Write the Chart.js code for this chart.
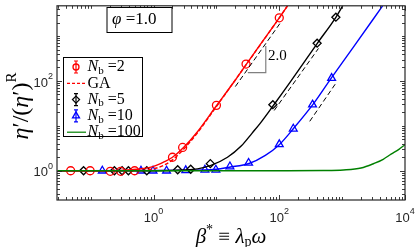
<!DOCTYPE html>
<html>
<head>
<meta charset="utf-8">
<script src="https://cdn.jsdelivr.net/npm/chart.js@4.4.1/dist/chart.umd.min.js"></script>
<style>
  html, body { margin: 0; padding: 0; background: #fff; }
</style>
</head>
<body>
<canvas id="chart" width="415" height="247"></canvas>
<script>
// values (beta* on x, eta'/(eta')^R on y)
const nb2X = [0.048, 0.098, 0.205, 0.30, 0.50, 2.0, 2.9, 10, 29.6, 100];
const nb2Y = [1, 1, 0.97, 0.97, 1, 2.0, 3.3, 28.6, 238, 2550];
const nb2LineX = [0.03, 0.3, 0.6, 1, 1.5, 2, 3, 5, 10, 20, 30, 50, 100, 135];
const nb2LineY = [1, 1.02, 1.09, 1.25, 1.6, 2.0, 3.3, 7.4, 28, 105, 238, 650, 2550, 4700];
const gaLineX = [0.03, 0.5, 1, 1.5, 2, 3, 5, 10, 30, 100, 135];
const gaLineY = [1, 1, 1.1, 1.35, 1.75, 3.0, 7, 27, 235, 2550, 4700];

const nb5X = [0.077, 0.238, 0.316, 0.398, 0.78, 2.42, 3.9, 8.0, 79, 400, 795];
const nb5Y = [1, 1, 1, 1, 1, 1.05, 1.08, 1.44, 29.6, 694, 2630];
const nb5LineX = [0.03, 1, 3, 5, 8, 15, 25, 37, 50, 80, 150, 400, 800, 1020];
const nb5LineY = [1, 1, 1.04, 1.1, 1.3, 2.0, 3.6, 6.9, 11.5, 28, 95, 680, 2650, 4700];

const nb10X = [0.153, 0.631, 0.98, 1.61, 3.25, 6.56, 9.8, 16.4, 32.5, 100, 167, 338, 680];
const nb10Y = [1, 1, 1, 1, 1.02, 1.05, 1.05, 1.24, 1.49, 3.86, 8.6, 29.6, 116];
const nb10LineX = [0.03, 3, 10, 16, 33, 60, 100, 167, 341, 671, 1500, 4400];
const nb10LineY = [1, 1.02, 1.08, 1.2, 1.45, 2.2, 3.8, 8.6, 29.6, 116, 560, 4700];

const nb100LineX = [0.03, 100, 500, 1050, 2000, 3200, 4500, 6000, 8000, 10000];
const nb100LineY = [1, 1, 1.01, 1.04, 1.15, 1.45, 1.8, 2.35, 3.0, 3.8];

// slope-2 guide segments
const guide1X = [20, 105];
const guide1Y = [75, 2000];
const guide2X = [83, 420];
const guide2Y = [22, 530];
const guide3X = [305, 790];
const guide3Y = [12.6, 88];
const triX = [31.6, 61, 61];
const triY = [154, 154, 600];

const xRange = [0.0291, 10000];
const yRange = [0.223, 4720];
const xLabelExps = [0, 2, 4];
const yLabelExps = [0, 2];

const RED = '#ff0000', BLACK = '#000000', BLUE = '#0000ff', GREEN = '#008000';
const SERIF = '"Liberation Serif", "DejaVu Serif", serif';

function pts(xs, ys) {
    return xs.map((x, i) => ({ x: x, y: ys[i] }));
}

function lineSet(xs, ys, color, dash, width) {
    return {
        data: pts(xs, ys), showLine: true, borderColor: color, borderWidth: width || 1.4,
        borderDash: dash || [], pointRadius: 0, tension: 0.4, cubicInterpolationMode: 'monotone', fill: false
    };
}

function markerSet(xs, ys, color, style, r) {
    return {
        data: pts(xs, ys), showLine: false, pointStyle: style, pointRadius: r,
        pointBorderColor: color, pointBackgroundColor: 'rgba(0,0,0,0)', pointBorderWidth: 1.3
    };
}

// draw a run of text pieces, each with own font and vertical shift
function runsWidth(ctx, runs) {
    let w = 0;
    runs.forEach(r => { ctx.font = r.f; w += ctx.measureText(r.t).width; });
    return w;
}
function drawRuns(ctx, runs, x, y, align) {
    let w = runsWidth(ctx, runs);
    let cx = align === 'center' ? x - w / 2 : (align === 'right' ? x - w : x);
    ctx.textAlign = 'left';
    ctx.textBaseline = 'middle';
    runs.forEach(r => {
        ctx.font = r.f;
        ctx.fillText(r.t, cx, y + (r.dy || 0));
        cx += ctx.measureText(r.t).width;
    });
}
function pow10(e) {
    return [
        { t: '10', f: '13px "Liberation Sans", Arial, sans-serif' },
        { t: String(e), f: '9px "Liberation Sans", Arial, sans-serif', dy: -6 }
    ];
}

function drawMarker(ctx, style, x, y, r, color) {
    ctx.save();
    ctx.strokeStyle = color;
    ctx.lineWidth = 1.3;
    ctx.beginPath();
    if (style === 'circle') {
        ctx.arc(x, y, r, 0, Math.PI * 2);
    } else if (style === 'rectRot') {
        ctx.moveTo(x, y - r); ctx.lineTo(x + r, y); ctx.lineTo(x, y + r); ctx.lineTo(x - r, y); ctx.closePath();
    } else {
        ctx.moveTo(x, y - r); ctx.lineTo(x + r * 0.87, y + r * 0.5); ctx.lineTo(x - r * 0.87, y + r * 0.5); ctx.closePath();
    }
    ctx.stroke();
    ctx.restore();
}

const decor = {
    id: 'decor',
    afterDraw(chart) {
        const ctx = chart.ctx;
        const a = chart.chartArea;
        const xs = chart.scales.x, ys = chart.scales.y;
        ctx.save();

        // axes box
        ctx.strokeStyle = '#262626';
        ctx.lineWidth = 1.2;
        ctx.strokeRect(a.left, a.top, a.right - a.left, a.bottom - a.top);

        // inward log ticks on all sides
        ctx.lineWidth = 0.9;
        ctx.beginPath();
        for (let k = -2; k <= 4; k++) {
            for (let m = 1; m <= 9; m++) {
                const v = m * Math.pow(10, k);
                const major = (m === 1 && k % 2 === 0);
                const len = major ? 5 : 3;
                if (v >= xRange[0] && v <= xRange[1]) {
                    const px = Math.round(xs.getPixelForValue(v)) + 0.5;
                    ctx.moveTo(px, a.bottom); ctx.lineTo(px, a.bottom - len);
                    ctx.moveTo(px, a.top); ctx.lineTo(px, a.top + len);
                }
                if (v >= yRange[0] && v <= yRange[1]) {
                    const py = Math.round(ys.getPixelForValue(v)) + 0.5;
                    ctx.moveTo(a.left, py); ctx.lineTo(a.left + len, py);
                    ctx.moveTo(a.right, py); ctx.lineTo(a.right - len, py);
                }
            }
        }
        ctx.stroke();

        // tick labels
        ctx.fillStyle = '#262626';
        xLabelExps.forEach(e => {
            drawRuns(ctx, pow10(e), xs.getPixelForValue(Math.pow(10, e)), a.bottom + 18, 'center');
        });
        yLabelExps.forEach(e => {
            drawRuns(ctx, pow10(e), a.left - 4, ys.getPixelForValue(Math.pow(10, e)) + 2, 'right');
        });

        // axis titles
        ctx.fillStyle = '#000';
        const it20 = 'italic 21px ' + SERIF, up20 = '21px ' + SERIF;
        drawRuns(ctx, [
            { t: 'β', f: it20 }, { t: '*', f: '14px ' + SERIF, dy: -7 },
            { t: ' ≡ ', f: up20 }, { t: 'λ', f: it20 },
            { t: 'p', f: '14px ' + SERIF, dy: 5 }, { t: 'ω', f: it20 }
        ], (a.left + a.right) / 2, 237, 'center');

        ctx.save();
        ctx.translate(22, 106);
        ctx.rotate(-Math.PI / 2);
        const it22 = 'italic 24px ' + SERIF, up22 = '24px ' + SERIF;
        drawRuns(ctx, [
            { t: 'η', f: it22 }, { t: '′', f: up22 }, { t: '/(', f: up22 },
            { t: 'η', f: it22 }, { t: '′', f: up22 }, { t: ')', f: up22 },
            { t: 'R', f: '15px ' + SERIF, dy: -10 }
        ], 0, 0, 'center');
        ctx.restore();

        // phi box
        ctx.fillStyle = '#fff';
        ctx.fillRect(107, 7.5, 65, 25);
        ctx.strokeStyle = '#000';
        ctx.lineWidth = 1;
        ctx.strokeRect(107, 7.5, 65, 25);
        ctx.fillStyle = '#000';
        drawRuns(ctx, [
            { t: 'φ', f: 'italic 17px ' + SERIF }, { t: ' =1.0', f: '17px ' + SERIF }
        ], 112, 20, 'left');

        // slope label
        drawRuns(ctx, [{ t: '2.0', f: '15px ' + SERIF }], 268, 56, 'left');

        // legend
        const lx = 63.5, ly = 57.5, lw = 79, lh = 79;
        ctx.fillStyle = '#fff';
        ctx.fillRect(lx, ly, lw, lh);
        ctx.strokeStyle = '#000';
        ctx.strokeRect(lx, ly, lw, lh);
        const entries = [
            { kind: 'err', color: RED, style: 'circle', r: 3, label: '=2' },
            { kind: 'dash', color: RED, label: 'GA' },
            { kind: 'err', color: BLACK, style: 'rectRot', r: 3.5, label: '=5' },
            { kind: 'err', color: BLUE, style: 'triangle', r: 4, label: '=10' },
            { kind: 'line', color: GREEN, label: '=100' }
        ];
        entries.forEach((en, i) => {
            const ey = 67 + i * 16.3;
            const mx = 76;
            ctx.strokeStyle = en.color;
            ctx.lineWidth = 1.2;
            if (en.kind === 'err') {
                ctx.beginPath();
                ctx.moveTo(mx, ey - 6); ctx.lineTo(mx, ey + 6);
                ctx.moveTo(mx - 2, ey - 6); ctx.lineTo(mx + 2, ey - 6);
                ctx.moveTo(mx - 2, ey + 6); ctx.lineTo(mx + 2, ey + 6);
                ctx.stroke();
                drawMarker(ctx, en.style, mx, ey, en.r, en.color);
            } else {
                ctx.save();
                if (en.kind === 'dash') ctx.setLineDash([3, 2]);
                ctx.beginPath();
                ctx.moveTo(67, ey); ctx.lineTo(86, ey);
                ctx.stroke();
                ctx.restore();
            }
            ctx.fillStyle = '#000';
            const runs = en.kind === 'dash'
                ? [{ t: 'GA', f: '16px ' + SERIF }]
                : [{ t: 'N', f: 'italic 16px ' + SERIF }, { t: 'b', f: '11px ' + SERIF, dy: 4 },
                   { t: ' ' + en.label, f: '16px ' + SERIF }];
            drawRuns(ctx, runs, 87.5, ey, 'left');
        });

        ctx.restore();
    }
};

const config = {
    type: 'scatter',
    data: {
        datasets: [
            lineSet(nb100LineX, nb100LineY, GREEN),
            lineSet(nb2LineX, nb2LineY, RED),
            lineSet(gaLineX, gaLineY, RED, [4, 2]),
            lineSet(nb5LineX, nb5LineY, BLACK),
            lineSet(nb10LineX, nb10LineY, BLUE),
            lineSet(guide1X, guide1Y, BLACK, [5, 3], 1),
            lineSet(guide2X, guide2Y, BLACK, [5, 3], 1),
            lineSet(guide3X, guide3Y, BLACK, [5, 3], 1),
            Object.assign(lineSet(triX, triY, '#808080', [], 1.2), { tension: 0 }),
            markerSet(nb2X, nb2Y, RED, 'circle', 4),
            markerSet(nb5X, nb5Y, BLACK, 'rectRot', 4),
            markerSet(nb10X, nb10Y, BLUE, 'triangle', 4.5)
        ]
    },
    options: {
        responsive: false,
        animation: false,
        layout: { padding: { left: 57, top: 1, right: 10, bottom: 47 } },
        plugins: {
            legend: { display: false },
            tooltip: { enabled: false }
        },
        scales: {
            x: { type: 'logarithmic', display: false, min: xRange[0], max: xRange[1] },
            y: { type: 'logarithmic', display: false, min: yRange[0], max: yRange[1] }
        }
    },
    plugins: [decor]
};

new Chart(document.getElementById('chart').getContext('2d'), config);
</script>
</body>
</html>
